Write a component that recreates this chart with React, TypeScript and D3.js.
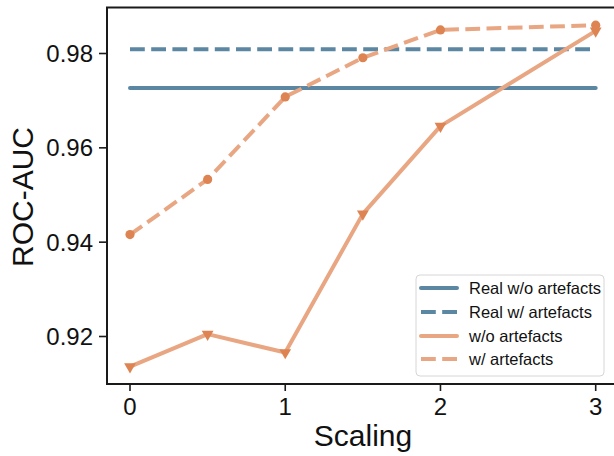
import React from "react";
import * as d3 from "d3";

const scalingSteps = [0, 0.5, 1, 1.5, 2, 3];
const withoutArtefacts = [0.9136, 0.9205, 0.9166, 0.946, 0.9646, 0.9848];
const withArtefacts = [0.9416, 0.9533, 0.9708, 0.9791, 0.985, 0.986];
const realWithout = 0.9727;
const realWith = 0.9809;
const xTicks = [0, 1, 2, 3];
const yTicks = [0.92, 0.94, 0.96, 0.98];
const legendLabels = ["Real w/o artefacts", "Real w/ artefacts", "w/o artefacts", "w/ artefacts"];

const W = 614;
const H = 456;
const left = 107;
const top = 7.5;
const bottom = 384;
const right = 622;

const BLUE = "#5b87a3";
const ORANGE_LINE = "#e9a682";
const ORANGE_MARK = "#dd8452";
const FONT = "'Liberation Sans', Arial, Helvetica, sans-serif";

export default function App() {
  const x = d3.scaleLinear().domain([0, 3]).range([130, 595.7]);
  const y = d3.scaleLinear().domain([0.92, 0.98]).range([336.5, 53.5]);

  const line = d3
    .line<number>()
    .x((_, i) => x(scalingSteps[i]))
    .y((d) => y(d));

  const xDomain = x.domain();
  const tri = d3.symbol().type(d3.symbolTriangle).size(60)();

  const legendRows = [288, 312, 336, 359];
  const legendStyles = [
    { color: BLUE, dash: undefined as string | undefined },
    { color: BLUE, dash: "14.8 6.4" },
    { color: ORANGE_LINE, dash: undefined },
    { color: ORANGE_LINE, dash: "14.8 6.4" },
  ];

  return (
    <svg
      width={W}
      height={H}
      style={{ position: "absolute", left: 0, top: 0, background: "#fff" }}
      fontFamily={FONT}
    >
      <rect width={W} height={H} fill="#fff" />
      {/* reference lines */}
      <line
        x1={x(xDomain[0])}
        x2={x(xDomain[1])}
        y1={y(realWithout)}
        y2={y(realWithout)}
        stroke={BLUE}
        strokeWidth={4}
        strokeLinecap="round"
      />
      <line
        x1={x(xDomain[0])}
        x2={x(xDomain[1])}
        y1={y(realWith)}
        y2={y(realWith)}
        stroke={BLUE}
        strokeWidth={4}
        strokeDasharray="14.8 6.4"
      />
      {/* orange lines */}
      <path
        d={line(withoutArtefacts) || ""}
        fill="none"
        stroke={ORANGE_LINE}
        strokeWidth={4}
        strokeLinejoin="round"
        strokeLinecap="round"
      />
      <path
        d={line(withArtefacts) || ""}
        fill="none"
        stroke={ORANGE_LINE}
        strokeWidth={4}
        strokeDasharray="14.8 6.4"
        strokeLinejoin="round"
      />
      {withArtefacts.map((v, i) => (
        <circle key={"c" + i} cx={x(scalingSteps[i])} cy={y(v)} r={4.6} fill={ORANGE_MARK} />
      ))}
      {withoutArtefacts.map((v, i) => (
        <path
          key={"t" + i}
          d={tri || ""}
          transform={`translate(${x(scalingSteps[i])},${y(v)}) rotate(180)`}
          fill={ORANGE_MARK}
        />
      ))}

      {/* spines */}
      <line x1={left} x2={left} y1={top} y2={bottom} stroke="#1a1a1a" strokeWidth={2} />
      <line x1={left - 1} x2={right} y1={bottom} y2={bottom} stroke="#1a1a1a" strokeWidth={2} />
      <line x1={left - 1} x2={right} y1={top} y2={top} stroke="#1a1a1a" strokeWidth={2} />

      {/* y ticks */}
      {yTicks.map((t) => (
        <g key={"y" + t}>
          <line x1={left - 8} x2={left} y1={y(t)} y2={y(t)} stroke="#1a1a1a" strokeWidth={1.6} />
          <text
            x={left - 14}
            y={y(t)}
            dy="0.35em"
            textAnchor="end"
            fontSize={24}
            fill="#111"
          >
            {d3.format(".2f")(t)}
          </text>
        </g>
      ))}
      {/* x ticks */}
      {xTicks.map((t) => (
        <g key={"x" + t}>
          <line x1={x(t)} x2={x(t)} y1={bottom} y2={bottom + 7} stroke="#1a1a1a" strokeWidth={1.6} />
          <text x={x(t)} y={415} textAnchor="middle" fontSize={24} fill="#111">
            {String(t)}
          </text>
        </g>
      ))}

      {/* axis labels */}
      <text x={363} y={446} textAnchor="middle" fontSize={30} fill="#111">
        Scaling
      </text>
      <text
        transform={`translate(33,197) rotate(-90)`}
        textAnchor="middle"
        fontSize={30}
        fill="#111"
      >
        ROC-AUC
      </text>

      {/* legend */}
      <rect
        x={416}
        y={275}
        width={188}
        height={101}
        rx={4}
        fill="#fff"
        fillOpacity={0.8}
        stroke="#d6d6d6"
        strokeWidth={1}
      />
      {legendLabels.map((lab, i) => (
        <g key={"l" + i}>
          <line
            x1={421}
            x2={457}
            y1={legendRows[i]}
            y2={legendRows[i]}
            stroke={legendStyles[i].color}
            strokeWidth={4}
            strokeDasharray={legendStyles[i].dash}
            strokeLinecap={legendStyles[i].dash ? "butt" : "round"}
          />
          <text x={469} y={legendRows[i]} dy="0.35em" fontSize={16.5} fill="#111">
            {lab}
          </text>
        </g>
      ))}
    </svg>
  );
}
